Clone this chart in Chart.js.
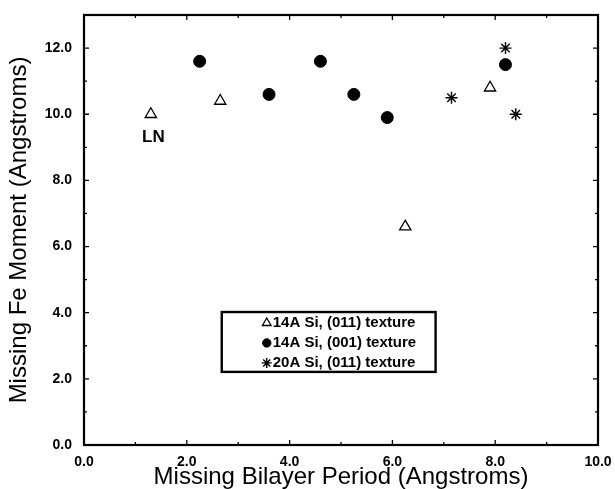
<!DOCTYPE html>
<html>
<head>
<meta charset="utf-8">
<script src="https://cdn.jsdelivr.net/npm/chart.js@4.4.1/dist/chart.umd.min.js"></script>
<style>
  body { margin: 0; background: #fff; }
  #wrap { width: 615px; height: 489px; }
</style>
</head>
<body>
<div id="wrap"><canvas id="moment" width="615" height="489"></canvas></div>
<script>
// bilayer period (x) vs missing Fe moment (y), one pair of arrays per sample set
const si14_011_x = [1.3, 2.65, 6.25, 7.9]
const si14_011_y = [10.0, 10.4, 6.6, 10.8]
const si14_001_x = [2.25, 3.6, 4.6, 5.25, 5.9, 8.2]
const si14_001_y = [11.6, 10.6, 11.6, 10.6, 9.9, 11.5]
const si20_011_x = [7.15, 8.2, 8.4]
const si20_011_y = [10.5, 12.0, 10.0]

const seriesLabels = ['14A Si, (011) texture', '14A Si, (001) texture', '20A Si, (011) texture']
const xTicks = [0, 2, 4, 6, 8, 10]
const yTicks = [0, 2, 4, 6, 8, 10, 12]

const FONT = "'Liberation Sans', Arial, Helvetica, sans-serif"

const toPoints = (xs, ys) => xs.map((x, i) => ({ x: x, y: ys[i] }))

// frame on all four sides with short inward ticks (long on the labelled values)
const frameTicks = {
  id: 'frameTicks',
  afterDraw(chart) {
    const { ctx, chartArea: a, scales } = chart
    const xs = scales.x, ys = scales.y
    ctx.save()
    ctx.strokeStyle = '#000'
    ctx.lineWidth = 1.3
    for (let v = xs.min + 1; v < xs.max; v++) {
      const px = xs.getPixelForValue(v)
      const len = xTicks.includes(v) ? 5 : 3
      ctx.beginPath()
      ctx.moveTo(px, a.bottom); ctx.lineTo(px, a.bottom - len)
      ctx.moveTo(px, a.top); ctx.lineTo(px, a.top + len)
      ctx.stroke()
    }
    for (let v = ys.min + 1; v < ys.max; v++) {
      const py = ys.getPixelForValue(v)
      const len = yTicks.includes(v) ? 5 : 3
      ctx.beginPath()
      ctx.moveTo(a.left, py); ctx.lineTo(a.left + len, py)
      ctx.moveTo(a.right, py); ctx.lineTo(a.right - len, py)
      ctx.stroke()
    }
    ctx.lineWidth = 2.2
    ctx.strokeRect(a.left, a.top, a.right - a.left, a.bottom - a.top)
    ctx.restore()
  }
}

// boxed key inside the plot, plus the LN note beside the first point
const keyBox = {
  id: 'keyBox',
  afterDraw(chart) {
    const { ctx, scales } = chart
    const xs = scales.x, ys = scales.y
    const l = xs.getPixelForValue(2.68), r = xs.getPixelForValue(6.84)
    const t = ys.getPixelForValue(4.02), b = ys.getPixelForValue(2.21)
    ctx.save()
    ctx.fillStyle = '#fff'
    ctx.fillRect(l, t, r - l, b - t)
    ctx.strokeStyle = '#000'
    ctx.lineWidth = 2.4
    ctx.strokeRect(l, t, r - l, b - t)

    const rowH = (b - t) / 3
    ctx.font = 'bold 15px ' + FONT
    ctx.textBaseline = 'middle'
    ctx.textAlign = 'left'
    chart.data.datasets.forEach((ds, i) => {
      const cy = t + rowH * (i + 0.5) + 1
      const cx = l + 45
      const opts = {
        pointStyle: ds.pointStyle,
        radius: ds.pointStyle === 'circle' ? 4.2 : 5,
        borderWidth: ds.pointBorderWidth
      }
      ctx.strokeStyle = '#000'
      ctx.fillStyle = ds.pointBackgroundColor
      ctx.lineWidth = ds.pointBorderWidth
      Chart.helpers.drawPoint(ctx, opts, cx, cy)
      ctx.fillStyle = '#000'
      ctx.fillText(ds.label, cx + 6, cy)
    })

    ctx.font = 'bold 17px ' + FONT
    ctx.textAlign = 'center'
    ctx.fillText('LN', xs.getPixelForValue(1.35), ys.getPixelForValue(9.3))
    ctx.restore()
  }
}

new Chart(document.getElementById('moment'), {
  type: 'scatter',
  data: {
    datasets: [
      {
        label: seriesLabels[0],
        data: toPoints(si14_011_x, si14_011_y),
        pointStyle: 'triangle',
        pointRadius: 6.5,
        pointBorderWidth: 1.3,
        pointBorderColor: '#000',
        pointBackgroundColor: '#fff'
      },
      {
        label: seriesLabels[1],
        data: toPoints(si14_001_x, si14_001_y),
        pointStyle: 'circle',
        pointRadius: 6,
        pointBorderWidth: 1,
        pointBorderColor: '#000',
        pointBackgroundColor: '#000'
      },
      {
        label: seriesLabels[2],
        data: toPoints(si20_011_x, si20_011_y),
        pointStyle: 'star',
        pointRadius: 6,
        pointBorderWidth: 1.4,
        pointBorderColor: '#000',
        pointBackgroundColor: '#000'
      }
    ]
  },
  options: {
    responsive: false,
    animation: false,
    events: [],
    layout: {
      autoPadding: false,
      padding: { top: 15, right: 17, bottom: 0, left: 0 }
    },
    plugins: {
      legend: { display: false },
      tooltip: { enabled: false }
    },
    scales: {
      x: {
        type: 'linear',
        min: 0,
        max: 10,
        grid: { display: false, drawTicks: false },
        border: { display: false },
        afterBuildTicks: (s) => { s.ticks = xTicks.map(v => ({ value: v })) },
        afterFit: (s) => {
          s.height = 44
          s.paddingLeft = 0
          s.paddingRight = 0
        },
        ticks: {
          color: '#000',
          padding: 9,
          maxRotation: 0,
          autoSkip: false,
          font: { family: FONT, size: 14, weight: 'bold' },
          callback: (v) => v.toFixed(1)
        },
        title: {
          display: true,
          text: 'Missing Bilayer Period (Angstroms)',
          color: '#000',
          padding: 0,
          font: { family: FONT, size: 24, lineHeight: 1 }
        }
      },
      y: {
        type: 'linear',
        min: 0,
        max: 13,
        grid: { display: false, drawTicks: false },
        border: { display: false },
        afterBuildTicks: (s) => { s.ticks = yTicks.map(v => ({ value: v })) },
        afterFit: (s) => {
          s.width = 84
          s.paddingTop = 0
          s.paddingBottom = 0
        },
        ticks: {
          color: '#000',
          padding: 12,
          autoSkip: false,
          font: { family: FONT, size: 14, weight: 'bold' },
          callback: (v) => v.toFixed(1)
        },
        title: {
          display: true,
          text: 'Missing Fe Moment (Angstroms)',
          color: '#000',
          padding: { top: 7, bottom: 0 },
          font: { family: FONT, size: 24, lineHeight: 1 }
        }
      }
    }
  },
  plugins: [frameTicks, keyBox]
})
</script>
</body>
</html>
